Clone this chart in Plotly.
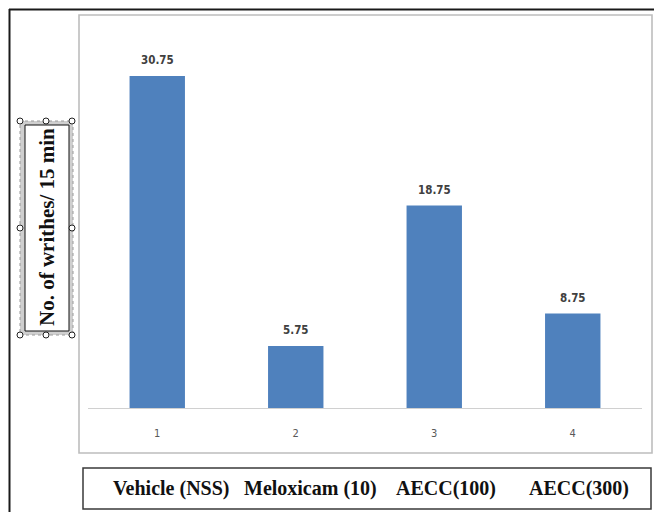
import plotly.graph_objects as go

W, H = 654, 512

# Chart data
tick_labels = ["1", "2", "3", "4"]
group_names = ["Vehicle (NSS)", "Meloxicam (10)", "AECC(100)", "AECC(300)"]
writhes = [30.75, 5.75, 18.75, 8.75]

BAR_COLOR = "#4f81bd"


def px(x):
    return x / W


def py(y):
    return 1 - y / H


fig = go.Figure(
    go.Bar(
        x=tick_labels,
        y=writhes,
        marker=dict(color=BAR_COLOR, line=dict(width=0)),
        hoverinfo="skip",
    )
)

# value labels above each bar (category axis positions are indices)
annotations = []
for i, v in enumerate(writhes):
    annotations.append(
        dict(
            x=i, y=v, xref="x", yref="y", text=f"<b>{v:.2f}</b>",
            showarrow=False, yanchor="bottom", yshift=7,
            font=dict(family="Liberation Sans Narrow, DejaVu Sans Condensed, Arial",
                      size=11.5, color="#404040"),
        )
    )

# group names in the box under the chart
name_centers = [171, 310, 446, 579]
for name, cx in zip(group_names, name_centers):
    annotations.append(
        dict(
            x=px(cx), y=py(488), xref="paper", yref="paper", text=f"<b>{name}</b>",
            showarrow=False, xanchor="center", yanchor="middle",
            font=dict(family="Liberation Serif, Times New Roman, serif", size=20, color="#111111"),
        )
    )

# rotated axis title inside its framed text box
annotations.append(
    dict(
        x=px(47), y=py(227), xref="paper", yref="paper",
        text="<b>No. of writhes/ 15 min</b>", textangle=-90,
        showarrow=False, xanchor="center", yanchor="middle",
        font=dict(family="Liberation Serif, Times New Roman, serif", size=21, color="#111111"),
    )
)


def rect(x0, y0, x1, y1, color, width, fill="rgba(0,0,0,0)", dash="solid"):
    return dict(
        type="rect", xref="paper", yref="paper",
        x0=px(x0), x1=px(x1), y0=py(y1), y1=py(y0),
        line=dict(color=color, width=width, dash=dash), fillcolor=fill, layer="below",
    )


def line(x0, y0, x1, y1, color, width):
    return dict(
        type="line", xref="paper", yref="paper",
        x0=px(x0), x1=px(x1), y0=py(y0), y1=py(y1),
        line=dict(color=color, width=width),
    )


shapes = [
    # outer page frame (top and left edges)
    line(9, 9.5, 654, 9.5, "#1a1a1a", 2),
    line(9.5, 9, 9.5, 512, "#1a1a1a", 2),
    # chart area border
    rect(79, 15, 652, 453, "#bdbdbd", 1.6, fill="white"),
    # box for group names
    rect(83, 468, 651, 509, "#3a3a3a", 1.5, fill="white"),
    # title box: hatched selection frame and inner frame
    rect(20, 121, 73, 335, "#9a9a9a", 1, fill="#cfcfcf", dash="dot"),
    rect(25, 125, 69, 331, "#111111", 1, fill="white"),
]

# selection handles around the title box
handles = [(20, 121), (46, 121), (72, 121), (20, 228), (72, 228),
           (20, 335), (46, 335), (72, 335)]
for hx, hy in handles:
    shapes.append(
        dict(
            type="circle", xref="paper", yref="paper",
            x0=px(hx - 3), x1=px(hx + 3), y0=py(hy + 3), y1=py(hy - 3),
            line=dict(color="#222222", width=1), fillcolor="white", layer="above",
        )
    )

fig.update_layout(
    width=W, height=H,
    margin=dict(l=0, r=0, t=0, b=0),
    paper_bgcolor="white",
    plot_bgcolor="rgba(0,0,0,0)",
    bargap=0.6,
    showlegend=False,
    shapes=shapes,
    annotations=annotations,
    xaxis=dict(
        domain=[px(88), px(642)],
        type="category",
        range=[-0.5, len(tick_labels) - 0.5],
        showline=True, linecolor="#d0d0d0", linewidth=1.2,
        ticks="outside", ticklen=15, tickcolor="rgba(0,0,0,0)",
        tickfont=dict(family="Liberation Sans Narrow, DejaVu Sans Condensed, Arial",
                      size=11, color="#595959"),
        showgrid=False, zeroline=False, fixedrange=True,
    ),
    yaxis=dict(
        domain=[py(408), py(30)],
        range=[0, 35],
        showticklabels=False, showgrid=False, zeroline=False, showline=False,
        fixedrange=True,
    ),
)

fig.write_html("out.html")
